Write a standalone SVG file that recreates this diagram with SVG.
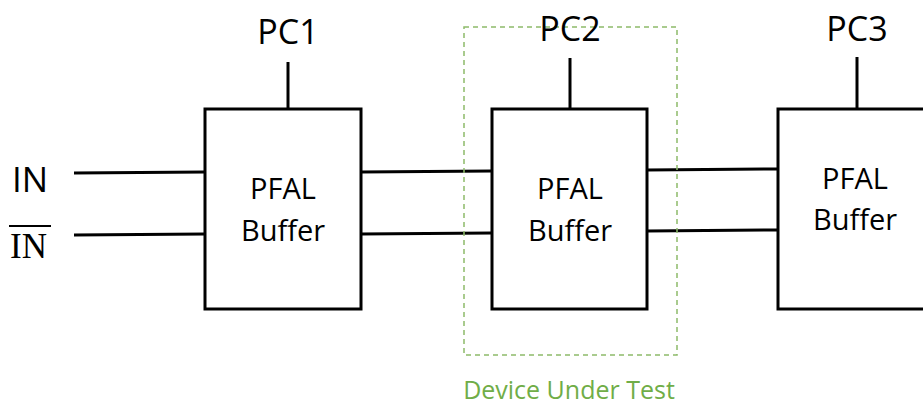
<svg xmlns="http://www.w3.org/2000/svg" width="923" height="405" viewBox="0 0 923 405">
<style>
.box{fill:#fff;stroke:#000;stroke-width:3}
.w{stroke:#000;stroke-width:3;fill:none}
.t{font-family:"Open Sans","Liberation Sans",sans-serif;fill:#000;text-anchor:middle}
.pc{font-size:34px}
.lbl{font-size:29px}
.dut{fill:none;stroke:#8dbb6a;stroke-width:1.5;stroke-dasharray:5,4}
</style>
<rect width="923" height="405" fill="#fff"/>
<g id="connectors">
<line class="w" x1="74" y1="173" x2="205" y2="172"/>
<line class="w" x1="74" y1="235" x2="205" y2="234"/>
<line class="w" x1="361" y1="172" x2="492" y2="171"/>
<line class="w" x1="361" y1="234" x2="492" y2="233"/>
<line class="w" x1="647" y1="170" x2="778" y2="169"/>
<line class="w" x1="647" y1="231" x2="778" y2="230"/>
<line class="w" x1="288" y1="62" x2="288" y2="110"/>
<line class="w" x1="570" y1="58" x2="570" y2="109"/>
<line class="w" x1="857" y1="57" x2="857" y2="109"/>
</g>
<g id="dut">
<rect class="dut" x="464" y="27" width="213" height="328"/>
<text x="569" y="399" font-family="'Open Sans','Liberation Sans',sans-serif" font-size="25" fill="#70ad47" text-anchor="middle">Device Under Test</text>
</g>
<g id="inputs">
<text x="12" y="192" font-family="'Open Sans','Liberation Sans',sans-serif" font-size="35">IN</text>
<text x="10" y="258" font-family="'Liberation Serif',serif" font-size="35">IN</text>
<line x1="9" y1="226" x2="51" y2="226" stroke="#000" stroke-width="2"/>
</g>
<g id="pc1">
<text class="t pc" x="288" y="44">PC1</text>
</g>
<g id="pc2">
<text class="t pc" x="570" y="41">PC2</text>
</g>
<g id="pc3">
<text class="t pc" x="857" y="41">PC3</text>
</g>
<g id="buf1">
<rect class="box" x="205" y="109" width="156" height="200"/>
<text class="t lbl" x="283" y="199">PFAL</text>
<text class="t lbl" x="283" y="241">Buffer</text>
</g>
<g id="buf2">
<rect class="box" x="492" y="109" width="155" height="200"/>
<text class="t lbl" x="570" y="199">PFAL</text>
<text class="t lbl" x="570" y="241">Buffer</text>
</g>
<g id="buf3">
<rect class="box" x="778" y="109" width="160" height="200"/>
<text class="t lbl" x="855" y="189">PFAL</text>
<text class="t lbl" x="855" y="230">Buffer</text>
</g>
</svg>
